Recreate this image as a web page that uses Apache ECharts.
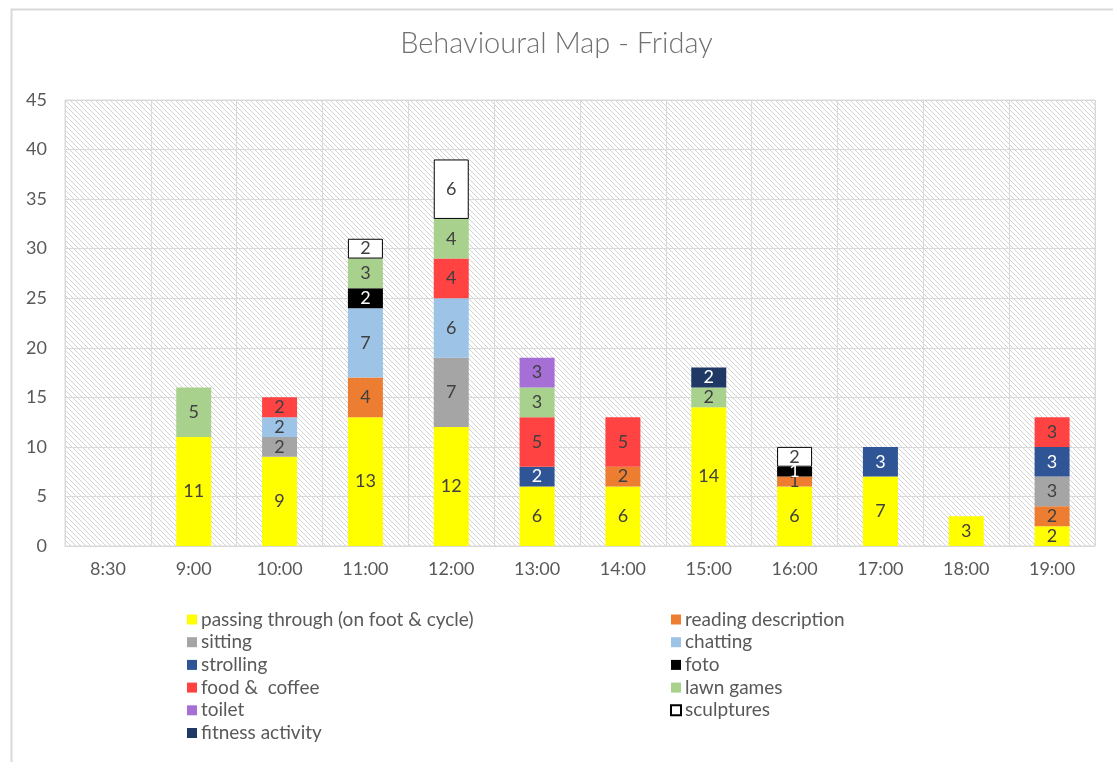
<!DOCTYPE html>
<html lang="en">
<head>
    <meta charset="UTF-8">
    <title>Behavioural Map - Friday</title>
    <script src="https://cdn.jsdelivr.net/npm/echarts@6/dist/echarts.min.js"></script>
    <style>
        html, body { margin: 0; padding: 0; background: #fff; }
        #chart { width: 1113px; height: 762px; }
    </style>
</head>
<body>
    <div id="chart"></div>
    <script>
        // time slots
        const times = ['8:30', '9:00', '10:00', '11:00', '12:00', '13:00', '14:00', '15:00', '16:00', '17:00', '18:00', '19:00'];

        // counts per behaviour, one value per time slot
        const passing    = [null, 11, 9, 13, 12, 6, 6, 14, 6, 7, 3, 2];
        const reading    = [null, null, null, 4, null, null, 2, null, 1, null, null, 2];
        const sitting    = [null, null, 2, null, 7, null, null, null, null, null, null, 3];
        const chatting   = [null, null, 2, 7, 6, null, null, null, null, null, null, null];
        const strolling  = [null, null, null, null, null, 2, null, null, null, 3, null, 3];
        const foto       = [null, null, null, 2, null, null, null, null, 1, null, null, null];
        const food       = [null, null, 2, null, 4, 5, 5, null, null, null, null, 3];
        const lawn       = [null, 5, null, 3, 4, 3, null, 2, null, null, null, null];
        const toilet     = [null, null, null, null, null, 3, null, null, null, null, null, null];
        const sculptures = [null, null, null, 2, 6, null, null, null, 2, null, null, null];
        const fitness    = [null, null, null, null, null, null, null, 2, null, null, null, null];

        const yTicks = { min: 0, max: 45, interval: 5 };

        // hatched background for the plot area
        const tile = document.createElement('canvas');
        tile.width = 5;
        tile.height = 5;
        const tctx = tile.getContext('2d');
        tctx.fillStyle = '#ffffff';
        tctx.fillRect(0, 0, 5, 5);
        tctx.fillStyle = '#d2d2d2';
        for (let i = 0; i < 5; i++) {
            tctx.fillRect(i, i, 1, 1);
        }

        const textGrey = '#595959';
        const font = 'Lato, "Liberation Sans", sans-serif';

        function makeSeries(name, data, color, labelColor, border) {
            return {
                name: name,
                type: 'bar',
                stack: 'total',
                barWidth: 35,
                data: data,
                itemStyle: {
                    color: color,
                    borderColor: border || 'rgba(0,0,0,0)',
                    borderWidth: border ? 1 : 0
                },
                label: {
                    show: true,
                    position: 'inside',
                    color: labelColor,
                    fontSize: 18,
                    fontFamily: font,
                    formatter: p => (p.value ? p.value : '')
                }
            };
        }

        const series = [
            makeSeries('passing through (on foot & cycle)', passing, '#ffff00', '#404040'),
            makeSeries('reading description', reading, '#ed7d31', '#404040'),
            makeSeries('sitting', sitting, '#a5a5a5', '#404040'),
            makeSeries('chatting', chatting, '#9dc3e6', '#404040'),
            makeSeries('strolling', strolling, '#2f5597', '#ffffff'),
            makeSeries('foto', foto, '#000000', '#ffffff'),
            makeSeries('food &  coffee', food, '#ff4343', '#404040'),
            makeSeries('lawn games', lawn, '#a9d18e', '#404040'),
            makeSeries('toilet', toilet, '#a66fd6', '#404040'),
            makeSeries('sculptures', sculptures, '#ffffff', '#404040', '#000000'),
            makeSeries('fitness activity', fitness, '#203864', '#ffffff')
        ];

        const legendLeft = ['passing through (on foot & cycle)', 'sitting', 'strolling', 'food &  coffee', 'toilet', 'fitness activity'];
        const legendRight = ['reading description', 'chatting', 'foto', 'lawn games', 'sculptures'];

        const legendBase = {
            orient: 'vertical',
            top: 605,
            icon: 'rect',
            itemWidth: 10,
            itemHeight: 10,
            itemGap: 3.7,
            selectedMode: false,
            textStyle: { color: textGrey, fontSize: 19, fontFamily: font, lineHeight: 19, padding: [0, 0, 0, -1] }
        };

        const chart = echarts.init(document.getElementById('chart'));
        chart.setOption({
            animation: false,
            backgroundColor: '#ffffff',
            title: {
                text: 'Behavioural Map - Friday',
                left: 'center',
                top: 24,
                textStyle: { color: '#707070', fontSize: 29, fontWeight: 300, fontFamily: font }
            },
            graphic: [{
                type: 'rect',
                left: 9,
                top: 7,
                shape: { width: 1200, height: 900 },
                style: { fill: 'none', stroke: '#d9d9d9', lineWidth: 2 },
                silent: true
            }],
            legend: [
                Object.assign({}, legendBase, { left: 182, data: legendLeft }),
                Object.assign({}, legendBase, { left: 665, data: legendRight })
            ],
            grid: {
                left: 65,
                right: 18,
                top: 100,
                bottom: 216,
                show: true,
                backgroundColor: { image: tile, repeat: 'repeat' },
                borderColor: '#d9d9d9',
                borderWidth: 1
            },
            xAxis: {
                type: 'category',
                data: times,
                axisLine: { lineStyle: { color: '#d9d9d9' } },
                axisTick: { show: false },
                splitLine: { show: true, lineStyle: { color: '#d9d9d9' } },
                axisLabel: { color: textGrey, fontSize: 18, fontFamily: font, margin: 14 }
            },
            yAxis: {
                type: 'value',
                min: yTicks.min,
                max: yTicks.max,
                interval: yTicks.interval,
                axisLine: { show: false },
                axisTick: { show: false },
                splitLine: { lineStyle: { color: '#d9d9d9' } },
                axisLabel: { color: textGrey, fontSize: 18, fontFamily: font, margin: 18 }
            },
            series: series
        });
    </script>
</body>
</html>
